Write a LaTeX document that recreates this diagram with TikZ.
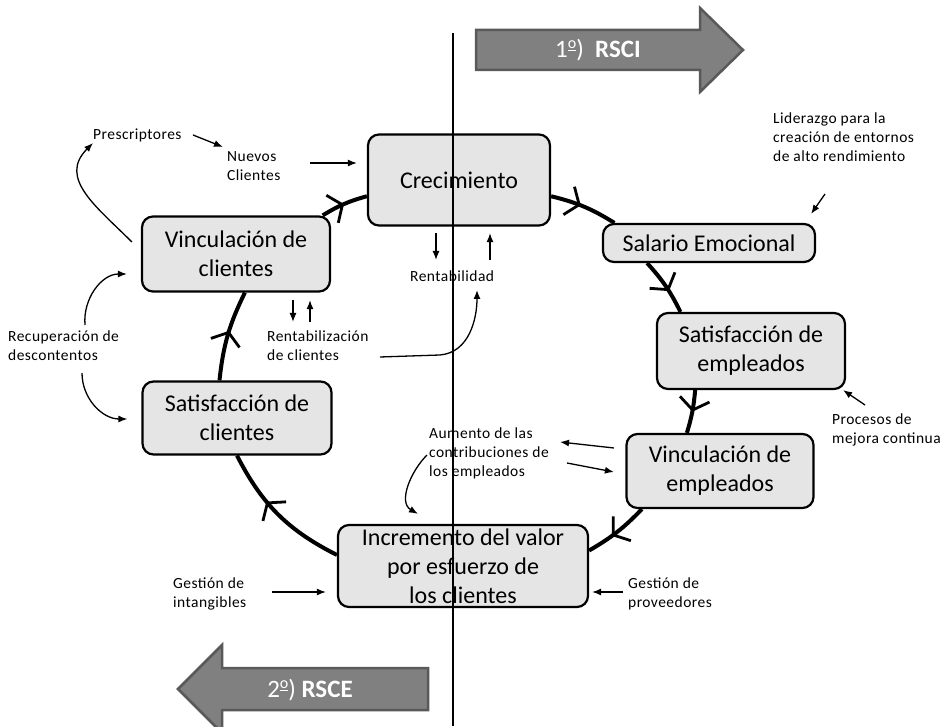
\documentclass[tikz,border=0pt]{standalone}
\usepackage{fontspec}
\setmainfont{Carlito}
\usetikzlibrary{arrows.meta,decorations.markings}

\newcommand\ordo{\raisebox{.75ex}{\fontsize{16}{16}\selectfont\underline{o}}}

\tikzset{
  box/.style={draw, line width=2.2pt, rounded corners=11pt, fill=black!10,
    align=center, inner sep=0pt, font=\fontsize{24}{29}\selectfont},
  note/.style={anchor=west, inner sep=0pt, align=left,
    font=\fontsize{15.5}{19}\selectfont\addfontfeature{LetterSpace=3}},
  thinArrow/.style={line width=1.3pt, -{Latex[length=9pt,width=7pt]}},
  cycleArc/.style={line width=4pt, postaction={decorate},
    decoration={markings, mark=at position #1 with
      {\arrow{Straight Barb[length=11pt,width=30pt,line width=2.8pt]}}}},
  cycleArc/.default=0.5,
  bigArrow/.style={fill=black!50, draw=black!65, line width=2.5pt},
  bigLabel/.style={text=white, font=\fontsize{25}{29}\selectfont}
}

\begin{document}
\begin{tikzpicture}[x=1pt,y=1pt]
  \useasboundingbox (0,0) rectangle (948,726);

  % the two big arrows
  \draw [bigArrow] (476,656) -- (700,656) -- (700,634) -- (743,676)
    -- (700,718) -- (700,696) -- (476,696) -- cycle;
  \node [bigLabel] (rsci) at (598,676) {1\ordo)\ \ \textbf{RSCI}};
  \draw [bigArrow] (428,58) -- (222,58) -- (222,81) -- (178,37)
    -- (222,-7) -- (222,16) -- (428,16) -- cycle;
  \node [bigLabel] (rsce) at (310,36) {2\ordo) \textbf{RSCE}};

  % boxes of the cycle
  \node [box, minimum width=182pt, minimum height=91pt] (crec) at (459,546) {Crecimiento};
  \node [box, minimum width=212pt, minimum height=38pt] (salario) at (709,483) {Salario Emocional};
  \node [box, minimum width=188pt, minimum height=76pt] (satEmp) at (751,375) {Satisfacción de\\empleados};
  \node [box, minimum width=187pt, minimum height=74pt] (vincEmp) at (720,255) {Vinculación de\\empleados};
  \node [box, minimum width=250pt, minimum height=82pt] (incr) at (463,160) {Incremento del valor\\por esfuerzo de\\los clientes};
  \node [box, minimum width=189pt, minimum height=73pt] (satCli) at (237,308) {Satisfacción de\\clientes};
  \node [box, minimum width=188pt, minimum height=75pt] (vincCli) at (236,472) {Vinculación de\\clientes};

  % small texts
  \node [note] (presc) at (93,591) {Prescriptores};
  \node [note] (nuevos) at (227,560) {Nuevos\\Clientes};
  \node [note] (lider) at (773,589) {Liderazgo para la\\creación de entornos\\de alto rendimiento};
  \node [note] (rentab) at (410,450) {Rentabilidad};
  \node [note] (rentabCli) at (267,380) {Rentabilización\\de clientes};
  \node [note] (recup) at (8,380) {Recuperación de\\descontentos};
  \node [note] (procesos) at (832,296) {Procesos de\\mejora continua};
  \node [note] (aumento) at (429,273) {Aumento de las\\contribuciones de\\los empleados};
  \node [note] (intang) at (173,132) {Gestión de\\intangibles};
  \node [note] (provee) at (628,132) {Gestión de\\proveedores};

  % the cycle
  \draw [cycleArc] (vincCli.24) to [bend left=8] (crec.190);
  \draw [cycleArc=0.45] (crec.-10) to [bend left=9] (salario.168);
  \draw [cycleArc=0.6] (salario.198) to [bend left=8] (satEmp.151);
  \draw [cycleArc] (satEmp.215) to [bend left=6] (vincEmp.131);
  \draw [cycleArc=0.6] (vincEmp.206) to [bend left=8] (incr.7);
  \draw [cycleArc=0.62] (incr.175) to [bend left=18] (satCli.south);
  \draw [cycleArc=0.55] (satCli.115) to [bend left=10] (vincCli.-77);

  % thin arrows
  \draw [thinArrow] ([xshift=100pt]presc.west) -- ([xshift=-4pt,yshift=19pt]nuevos.west);
  \draw [thinArrow] ([xshift=83pt,yshift=3pt]nuevos.west) -- ([xshift=-10pt,yshift=17pt]crec.west);
  \draw [thinArrow] ([xshift=-9pt,yshift=12pt]vincCli.west) to [out=135,in=-135,looseness=1.2] ([yshift=-8pt]presc.west);
  \draw [thinArrow] ([xshift=77pt,yshift=21pt]recup.west) to [out=95,in=180] ([xshift=-14pt,yshift=-20pt]vincCli.west);
  \draw [thinArrow] ([xshift=74pt,yshift=-27pt]recup.west) to [out=-90,in=180] ([xshift=-14pt,yshift=-1pt]satCli.west);
  \draw [thinArrow] ([xshift=57pt,yshift=-7.5pt]vincCli.south) -- ([xshift=26pt,yshift=24pt]rentabCli.west);
  \draw [thinArrow] ([xshift=43pt,yshift=24pt]rentabCli.west) -- ([xshift=74pt,yshift=-7.5pt]vincCli.south);
  \draw [thinArrow] ([xshift=-23pt,yshift=-6.5pt]crec.south) -- ([xshift=26pt,yshift=16pt]rentab.west);
  \draw [thinArrow] ([xshift=80pt,yshift=16pt]rentab.west) -- ([xshift=31pt,yshift=-6.5pt]crec.south);
  \draw [thinArrow] ([xshift=113pt,yshift=-11pt]rentabCli.west) -- ++(60,2)
    to [out=5,in=-90] ([xshift=67pt,yshift=-14pt]rentab.west);
  \draw [thinArrow] ([xshift=52pt,yshift=-57pt]lider.west) -- ([xshift=-5pt,yshift=9pt]salario.north east);
  \draw [thinArrow] ([xshift=33pt,yshift=25pt]procesos.west) -- ([xshift=-3pt]satEmp.south east);
  \draw [thinArrow] ([xshift=-11.5pt,yshift=23pt]vincEmp.west) -- ([xshift=131pt,yshift=11pt]aumento.west);
  \draw [thinArrow] ([xshift=138pt,yshift=-10pt]aumento.west) -- ([xshift=-11.5pt,yshift=-1pt]vincEmp.west);
  \draw [thinArrow] ([xshift=-2pt,yshift=-2pt]aumento.west) to [out=-135,in=150] ([xshift=-45pt,yshift=10pt]incr.north);
  \draw [thinArrow] ([xshift=99pt,yshift=2pt]intang.west) -- ([xshift=-11pt,yshift=-26pt]incr.west);
  \draw [thinArrow] ([xshift=-5pt,yshift=2pt]provee.west) -- ([xshift=3pt,yshift=-26pt]incr.east);

  % dividing line
  \draw [line width=1.6pt] (453,693) -- (453,0);
\end{tikzpicture}
\end{document}
